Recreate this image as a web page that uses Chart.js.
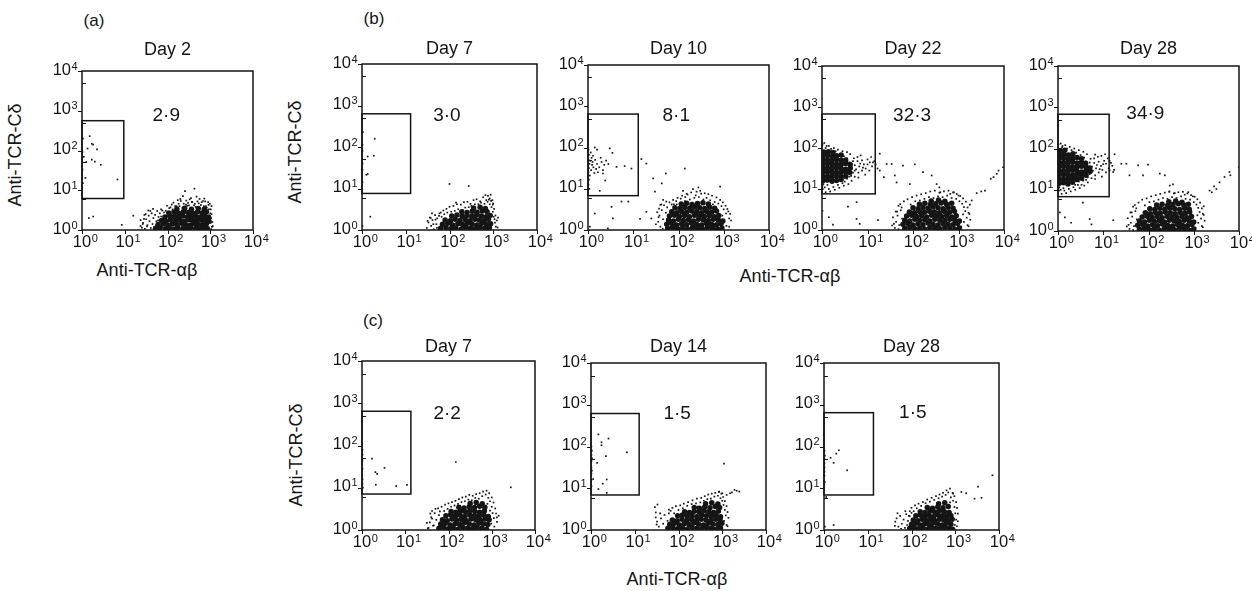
<!DOCTYPE html>
<html><head><meta charset="utf-8">
<script src="https://cdn.jsdelivr.net/npm/chart.js@4.4.0/dist/chart.umd.min.js"></script>
<style>
html,body{margin:0;padding:0;background:#fff;}
body{width:1252px;height:591px;position:relative;overflow:hidden;font-family:"Liberation Sans",Arial,sans-serif;color:#151515;}
canvas{position:absolute;}
.t{position:absolute;white-space:nowrap;transform:translate(-50%,-50%);font-size:18px;line-height:1;}
.r{transform:translate(-50%,-50%) rotate(-90deg);}
</style></head><body>
<div class="t" style="left:94px;top:20px;font-size:17px">(a)</div>
<div class="t" style="left:374px;top:18px;font-size:17px">(b)</div>
<div class="t" style="left:373px;top:320px;font-size:17px">(c)</div>
<div class="t r" style="left:15px;top:155px">Anti-TCR-Cδ</div>
<div class="t r" style="left:295px;top:152px">Anti-TCR-Cδ</div>
<div class="t r" style="left:296px;top:455px">Anti-TCR-Cδ</div>
<div class="t" style="left:147px;top:270px">Anti-TCR-αβ</div>
<div class="t" style="left:790px;top:276px">Anti-TCR-αβ</div>
<div class="t" style="left:677px;top:579px">Anti-TCR-αβ</div>
<script>
// ---- data (log10 positions in hundredths of a decade: x,y,x,y,...) ----
const titles = ['Day 2','Day 7','Day 10','Day 22','Day 28','Day 7','Day 14','Day 28'];
const percents = ['2·9','3·0','8·1','32·3','34·9','2·2','1·5','1·5'];
// gate: [x max, y min, y max] (x min = 10^0)
const gates = [[9.5,6.2,562],[12.9,7.6,631],[12.9,6.8,646],[14.8,7.6,676],[13.5,6.8,676],[13.5,7.1,646],[12.6,6.9,617],[13.5,6.9,646]];
const tickValues = [1,10,100,1000,10000];

const aD2Core = [172,4,183,6,195,3,204,5,215,2,224,6,236,4,245,3,254,6,266,4,275,2,284,5,293,4,
178,14,190,16,201,12,211,15,222,13,233,17,242,14,253,12,263,16,272,14,281,13,291,16,
186,24,197,22,207,26,219,23,228,25,239,22,249,26,258,24,268,23,279,26,288,24,297,22,
194,33,205,36,216,34,226,32,236,35,247,33,256,36,266,34,276,32,287,35,296,33,
203,43,215,45,226,42,237,46,248,44,259,42,270,45,281,43,291,46,
222,53,240,55,256,52,272,54,286,52];
const aD2Dots = [140,6,143,18,147,3,150,27,153,12,156,36,158,22,161,5,163,42,165,15,167,30,169,8,171,38,174,22,176,48,179,33,182,42,185,52,160,48,149,40,145,28,
196,48,204,55,212,52,218,60,228,60,235,56,243,64,250,62,262,62,266,58,278,63,285,60,292,56,297,52,300,42,302,30,303,60,301,18,304,8,299,66,295,70,288,72,280,70,270,72,258,70,248,68,238,66,226,66,
188,49,192,44,199,61,207,57,214,69,221,60,231,73,246,61,257,71,264,66,273,67,283,73,290,60,296,63,301,52,303,40,305,20,306,10,302,2,286,79,268,84,252,77,244,74,224,75,200,42,185,34,178,24,173,12,166,53,155,49,146,38,152,9,142,15,137,25,
241,98,263,104,236,85,255,80,230,78,275,78,210,64,
2,230,18,236,23,217,26,215,35,203,13,205,4,184,10,171,23,177,30,172,44,164,8,131,83,127,1,196,1,152,2,118,
16,30,26,34,93,13,120,36,137,10];

const bD7Core = [180,4,192,6,203,3,214,5,226,2,237,6,248,4,259,3,270,6,281,4,291,5,
184,14,196,16,207,12,219,15,230,13,241,16,252,14,263,12,274,16,285,14,294,15,
190,24,202,22,213,26,224,23,236,25,247,22,258,26,268,24,279,23,289,26,
205,34,217,36,229,33,240,35,251,33,262,36,273,34,284,32,293,35,
228,44,240,42,252,45,263,43,275,46,286,44,
255,53,270,55,282,52];
const bD7Dots = [148,5,152,18,155,30,158,10,161,24,164,2,167,36,170,14,172,28,175,6,177,40,160,40,150,22,
182,32,188,38,195,42,204,44,212,46,220,50,230,48,236,54,244,55,250,58,258,62,266,62,272,66,280,63,287,68,292,62,296,55,299,44,301,32,304,18,306,8,298,72,292,76,288,82,300,64,295,10,303,26,311,30,
176,34,180,42,186,47,193,51,200,56,209,58,217,62,226,61,233,67,241,68,248,63,255,72,262,74,270,69,277,79,284,72,290,73,295,70,299,61,302,51,305,35,308,23,310,6,294,85,282,84,168,25,163,14,157,29,171,5,215,66,
200,111,244,106,
2,236,29,220,13,177,27,179,10,133,13,135,1,205,1,160,1,190,1,145,1,115,
19,32,1,10];

const bD10Core = [176,4,187,6,198,3,209,5,220,2,231,6,242,4,253,3,264,6,275,4,286,2,296,5,
174,14,185,16,196,12,207,15,218,13,229,17,240,14,251,12,262,16,273,14,284,13,294,16,
178,24,189,22,200,26,211,23,222,25,233,22,244,26,255,24,266,23,277,26,288,24,298,22,
180,34,191,36,202,33,213,35,224,32,235,36,246,34,257,33,268,35,279,32,289,35,
185,44,196,42,207,45,218,43,229,46,240,44,251,42,262,45,273,43,284,46,
192,54,203,52,214,55,225,53,236,56,247,54,258,52,269,55,280,53,
206,63,218,65,230,62,242,64,254,66,266,63];
const bD10Dots = [155,20,158,35,160,8,163,48,166,26,168,60,170,14,172,42,165,3,157,52,162,62,175,55,
185,62,195,70,205,76,215,80,225,74,235,78,245,80,255,74,262,78,270,72,280,68,288,64,295,58,300,50,305,40,310,45,312,28,301,20,306,10,297,35,220,86,250,88,240,93,214,70,196,62,276,62,
180,67,188,73,198,78,208,83,218,88,228,91,238,84,248,95,258,89,266,87,274,83,284,79,292,73,298,67,304,59,308,51,314,39,316,23,312,8,173,69,166,73,160,61,153,43,150,14,156,31,232,99,244,103,210,95,
292,105,190,62,
144,125,172,137,214,149,163,113,148,93,129,44,140,28,115,27,89,69,74,69,52,56,44,4,4,8,15,40,118,172,129,161,55,28,
1,195,2,182,1,170,3,160,2,150,1,140,4,132,2,122,6,188,8,175,10,165,12,152,7,145,14,138,9,158,16,170,5,168,18,148,11,180,20,160,22,140,25,152,28,175,30,165,33,145,36,158,40,168,48,198,54,187,63,153,81,155,96,149,33,137,26,95,38,120,20,195,15,200,45,160,1,110,3,100];

const bD22Core = [2,120,12,122,22,119,32,121,42,123,
2,130,12,131,22,129,32,132,42,130,52,131,
2,140,12,142,22,139,32,141,42,140,52,142,61,140,
2,150,12,151,22,149,32,152,42,150,52,148,62,151,
2,160,12,162,22,159,32,161,42,160,52,162,62,160,
2,170,12,171,22,169,32,172,42,170,52,171,
2,180,12,182,22,179,32,181,42,183,
4,190,14,191,24,189,
182,4,193,6,204,3,215,5,226,2,237,6,248,4,259,3,270,6,281,4,292,2,302,5,
178,14,189,16,200,12,211,15,222,13,233,17,244,14,255,12,266,16,277,14,288,13,298,16,
182,24,193,22,204,26,215,23,226,25,237,22,248,26,259,24,270,23,281,26,292,24,302,22,
186,34,197,36,208,33,219,35,230,32,241,36,252,34,263,33,274,35,285,32,295,35,
192,44,203,42,214,45,225,43,236,46,247,44,258,42,269,45,280,43,291,46,
200,54,211,52,222,55,233,53,244,56,255,54,266,52,277,55,288,53,
214,63,226,65,238,62,250,64,262,66,274,63,285,65,
240,71,256,73,270,70];
const bD22Dots = [70,175,78,168,85,182,92,160,100,172,108,178,96,150,88,145,80,140,72,130,65,120,58,112,48,108,38,103,28,98,18,94,8,92,2,100,3,112,12,110,62,185,55,190,45,192,35,196,26,200,15,205,5,212,8,200,110,155,104,145,95,135,105,165,82,155,75,148,68,168,72,158,88,170,60,130,50,118,68,140,115,168,1,108,1,208,
60,165,66,150,78,178,84,162,90,152,100,160,55,175,48,180,58,140,64,132,72,145,80,128,55,125,45,114,35,110,25,105,15,100,6,104,10,118,42,186,30,192,20,198,10,205,118,160,122,150,112,165,
160,5,163,20,166,35,170,12,173,48,176,28,168,2,158,15,175,55,165,45,195,62,205,70,215,72,225,76,235,80,245,78,255,82,265,80,275,84,285,78,295,76,302,70,308,64,312,56,315,46,310,38,318,30,312,20,320,12,306,8,290,92,260,92,282,88,300,84,325,62,322,42,
172,63,180,70,188,75,198,80,208,84,218,87,228,90,238,94,248,96,258,91,268,94,278,96,288,92,296,88,304,83,310,77,316,69,320,55,324,39,326,25,322,9,154,11,156,31,162,45,168,59,
329,72,340,90,350,94,358,96,371,125,377,129,384,137,388,145,398,153,
127,186,142,161,153,161,178,157,204,160,222,141,241,133,164,116,193,112,252,112,258,104,127,145,160,133,136,129,
15,31,24,13,57,57,76,68,83,15,123,24,76,27,1,47];

const bD28Core = [2,115,12,117,22,114,32,118,
2,125,12,126,22,124,32,127,42,125,52,128,
2,135,12,137,22,134,32,136,42,135,52,137,62,135,
2,145,12,146,22,144,32,147,42,145,52,143,62,146,71,144,
2,155,12,157,22,154,32,156,42,155,52,157,62,155,70,153,
2,165,12,166,22,164,32,167,42,165,52,166,61,164,
2,175,12,177,22,174,32,176,42,178,52,175,
3,185,13,186,23,184,33,187,
5,195,15,196,
180,4,191,6,202,3,213,5,224,2,235,6,246,4,257,3,268,6,279,4,290,2,300,5,
176,14,187,16,198,12,209,15,220,13,231,17,242,14,253,12,264,16,275,14,286,13,296,16,
180,24,191,22,202,26,213,23,224,25,235,22,246,26,257,24,268,23,279,26,290,24,300,22,
186,34,197,36,208,33,219,35,230,32,241,36,252,34,263,33,274,35,285,32,295,35,
193,44,204,42,215,45,226,43,237,46,248,44,259,42,270,45,281,43,291,46,
203,54,214,52,225,55,236,53,247,56,258,54,269,52,280,55,290,53,
218,63,230,65,242,62,254,64,266,66,278,63,288,65,
245,71,260,73,274,70];
const bD28Dots = [72,175,80,165,88,180,95,158,102,170,110,176,98,148,90,142,82,135,74,128,66,118,58,110,48,104,38,100,28,96,18,92,8,90,2,98,3,106,12,104,64,186,56,192,46,196,36,200,26,204,16,208,6,212,9,203,112,152,106,142,97,132,106,163,84,152,77,146,70,166,75,156,90,168,62,124,52,112,70,138,117,165,1,102,1,210,82,185,96,182,104,186,46,120,38,112,
62,168,68,152,80,176,86,160,92,150,100,162,58,178,50,184,60,142,66,130,74,148,82,126,56,122,44,112,34,106,24,102,14,98,6,100,10,114,40,190,30,196,20,200,10,206,120,158,124,148,114,170,
158,5,161,20,164,35,168,12,171,48,174,28,166,2,156,15,173,55,163,45,192,62,202,70,212,72,222,76,232,80,242,78,252,82,262,80,272,84,282,78,292,76,300,70,306,64,310,56,313,46,308,38,316,30,310,20,318,12,304,8,288,94,258,92,280,88,298,84,322,60,320,42,246,96,
170,63,178,69,186,76,196,79,206,84,216,87,226,90,236,93,246,95,256,91,266,94,276,95,286,91,294,87,302,83,308,77,314,69,318,55,322,39,324,25,320,9,152,11,154,31,160,45,166,59,
335,98,340,94,350,102,357,118,368,131,379,143,381,135,400,155,345,108,
125,186,140,163,151,163,177,159,199,161,225,139,236,135,158,135,188,135,247,110,254,113,114,147,122,143,
4,45,15,33,29,20,55,69,70,29,74,16,122,26];

const cD7Core = [178,4,189,6,200,3,211,5,222,2,233,6,244,4,255,3,266,6,277,4,288,2,
182,14,193,16,204,12,215,15,226,13,237,17,248,14,259,12,270,16,281,14,291,13,
186,24,197,22,208,26,219,23,230,25,241,22,252,26,263,24,274,23,285,26,294,24,
194,34,205,36,216,33,227,35,238,32,249,36,260,34,271,33,282,35,292,32,
206,44,217,42,228,45,239,43,250,46,261,44,272,42,283,45,
224,54,236,52,248,55,260,53,272,56,284,54,
250,63,264,65,278,62];
const cD7Dots = [154,5,157,18,160,30,164,10,168,40,172,24,175,2,178,35,162,45,170,50,180,44,
190,45,198,50,206,55,214,58,222,62,230,66,238,68,246,72,254,70,262,76,270,74,278,80,286,84,292,76,296,68,300,55,302,40,305,28,299,15,306,8,312,30,316,34,290,62,296,46,
176,51,184,55,192,60,200,63,208,66,216,69,224,73,232,77,240,79,248,83,256,81,264,85,272,87,280,91,288,93,294,87,300,77,304,65,308,51,310,39,312,19,158,39,162,27,166,11,150,17,152,4,
217,161,344,101,
23,169,31,137,35,133,52,147,32,107,79,104,104,107,1,190,1,165,1,145,1,120,2,100,1,110,1,178];

const cD14Core = [176,4,187,6,198,3,209,5,220,2,231,6,242,4,253,3,264,6,275,4,286,2,296,5,
180,14,191,16,202,12,213,15,224,13,235,17,246,14,257,12,268,16,279,14,290,13,299,16,
186,24,197,22,208,26,219,23,230,25,241,22,252,26,263,24,274,23,285,26,295,24,
198,34,209,36,220,33,231,35,242,32,253,36,264,34,275,33,286,35,296,32,
214,44,225,42,236,45,247,43,258,46,269,44,280,42,291,45,
236,54,248,52,260,55,272,53,284,56,294,54,
262,63,276,65,290,62];
const cD14Dots = [148,30,148,42,151,20,155,8,160,28,165,15,168,36,172,5,175,22,158,40,178,40,182,46,
190,40,200,48,210,52,220,58,230,62,240,64,250,66,258,70,266,74,274,75,282,80,290,82,296,76,300,70,303,60,306,48,308,35,304,22,310,12,300,88,293,92,244,56,
178,49,186,53,194,57,204,59,212,63,222,67,232,71,242,75,252,77,260,81,268,85,276,87,284,89,292,91,298,87,302,79,306,69,310,57,312,43,314,29,312,9,150,13,146,55,152,61,
310,84,318,88,333,94,339,92,322,90,328,96,304,159,
17,229,40,219,24,210,24,203,34,177,82,186,14,161,5,122,27,111,36,121,17,98,36,89,1,200,1,180,1,165,1,150,1,135,1,120,1,105,2,190,2,172,2,142];

const cD28Core = [196,4,206,6,216,3,226,5,236,2,246,6,256,4,266,3,276,6,286,4,294,2,
200,14,210,16,220,12,230,15,240,13,250,17,260,14,270,12,280,16,290,14,
204,24,214,22,224,26,234,23,244,25,254,22,264,26,274,24,284,23,293,26,
210,34,220,36,230,33,240,35,250,32,260,36,270,34,280,33,290,35,
220,44,231,42,242,45,253,43,264,46,275,44,286,42,
236,54,248,52,260,55,272,53,284,56,
262,63,276,65];
const cD28Dots = [163,20,166,28,170,8,174,34,178,15,182,25,185,5,188,38,192,22,168,40,162,10,176,3,190,12,186,45,194,34,
205,45,212,52,222,58,232,64,242,68,252,72,262,76,270,80,278,84,284,90,290,78,295,70,298,55,300,40,302,25,299,12,288,66,
196,45,200,53,208,59,216,63,226,67,236,73,246,77,256,81,264,85,272,89,280,95,288,99,294,89,298,81,302,67,304,53,306,39,306,21,304,9,196,33,200,41,
295,87,314,91,325,88,352,104,344,75,360,77,385,131,
15,173,22,161,28,183,34,191,53,143,1,190,1,170,1,160,1,150,1,140,1,130,2,178,2,115,
5,79,22,12,2,8];

const coreSets = [aD2Core,bD7Core,bD10Core,bD22Core,bD28Core,cD7Core,cD14Core,cD28Core];
const dotSets = [aD2Dots,bD7Dots,bD10Dots,bD22Dots,bD28Dots,cD7Dots,cD14Dots,cD28Dots];

// ---- layout (page pixels of each plot frame; label anchor in decades) ----
const frames = [
 {L:82,T:71,R:253,B:230,ty:50,lx:1.97,ly:2.87},
 {L:362,T:64,R:537,B:230,ty:49,lx:1.94,ly:2.75},
 {L:588,T:65,R:769,B:230,ty:49,lx:1.95,ly:2.78},
 {L:822,T:66,R:1004,B:230,ty:49,lx:1.98,ly:2.79},
 {L:1058,T:66,R:1239,B:231,ty:49,lx:1.93,ly:2.84},
 {L:362,T:361,R:535,B:530,ty:347,lx:1.97,ly:2.75},
 {L:591,T:363,R:766,B:530,ty:347,lx:1.97,ly:2.79},
 {L:824,T:363,R:999,B:530,ty:347,lx:2.03,ly:2.8}
];
const PADL=60, PADT=40, PADR=25, PADB=30;
const INK='#151515';
const FONT='"Liberation Sans", Arial, sans-serif';

function toPts(a){const out=[];for(let i=0;i<a.length;i+=2)out.push({x:Math.pow(10,a[i]/100),y:Math.pow(10,a[i+1]/100)});return out;}
const isMajor=v=>Math.abs(Math.log10(v)-Math.round(Math.log10(v)))<1e-6;

const flowPlugin={
 id:'flow',
 afterDraw(chart,args,o){
  const {ctx,chartArea:a,scales:{x,y}}=chart;
  ctx.save();
  ctx.fillStyle=INK; ctx.strokeStyle=INK;
  ctx.lineWidth=1.5;
  ctx.strokeRect(a.left,a.top,a.right-a.left,a.bottom-a.top);
  ctx.lineWidth=1;
  x.ticks.forEach(t=>{
   const p=Math.round(x.getPixelForValue(t.value))+0.5;
   ctx.beginPath();
   if(isMajor(t.value)){ctx.moveTo(p,a.bottom);ctx.lineTo(p,a.bottom+4);}
   else{ctx.moveTo(p,a.bottom);ctx.lineTo(p,a.bottom-4);}
   ctx.stroke();
  });
  y.ticks.forEach(t=>{
   const p=Math.round(y.getPixelForValue(t.value))+0.5;
   ctx.beginPath();
   if(isMajor(t.value)){ctx.moveTo(a.left,p);ctx.lineTo(a.left-4,p);}
   else{ctx.moveTo(a.left,p);ctx.lineTo(a.left+4,p);}
   ctx.stroke();
  });
  tickValues.forEach(v=>{
   const e=String(Math.round(Math.log10(v)));
   const px=x.getPixelForValue(v);
   ctx.font='16.5px '+FONT; ctx.textAlign='center'; ctx.textBaseline='middle';
   ctx.fillText('10',px,a.bottom+12);
   const w=ctx.measureText('10').width;
   ctx.font='11px '+FONT; ctx.textAlign='left'; ctx.textBaseline='top';
   ctx.fillText(e,px+w/2+0.5,a.bottom+3);
   const py=y.getPixelForValue(v);
   ctx.font='16.5px '+FONT; ctx.textAlign='right'; ctx.textBaseline='middle';
   ctx.fillText('10',a.left-11,py-1);
   ctx.font='11px '+FONT; ctx.textAlign='left'; ctx.textBaseline='top';
   ctx.fillText(e,a.left-10.5,py-10);
  });
  const g=o.gate;
  ctx.lineWidth=1.5;
  const gx0=x.getPixelForValue(1),gx1=x.getPixelForValue(g[0]);
  const gy0=y.getPixelForValue(g[2]),gy1=y.getPixelForValue(g[1]);
  ctx.strokeRect(gx0,gy0,gx1-gx0,gy1-gy0);
  ctx.font='19px '+FONT; ctx.textAlign='center'; ctx.textBaseline='middle';
  ctx.fillText(o.pct,x.getPixelForValue(Math.pow(10,o.lx)),y.getPixelForValue(Math.pow(10,o.ly)));
  ctx.font='18px '+FONT;
  ctx.fillText(o.title,(a.left+a.right)/2,o.ty);
  ctx.restore();
 }
};

frames.forEach((f,i)=>{
 const cv=document.createElement('canvas');
 const W=f.R-f.L+PADL+PADR, H=f.B-f.T+PADT+PADB;
 cv.width=W; cv.height=H;
 cv.style.left=(f.L-PADL)+'px'; cv.style.top=(f.T-PADT)+'px';
 cv.style.width=W+'px'; cv.style.height=H+'px';
 document.body.appendChild(cv);
 new Chart(cv,{
  type:'scatter',
  data:{datasets:[
   {data:toPts(coreSets[i]),pointStyle:'circle',pointRadius:2.75,backgroundColor:INK,borderWidth:0,clip:0},
   {data:toPts(dotSets[i]),pointStyle:'rect',pointRadius:1.2,backgroundColor:INK,borderWidth:0,clip:0}
  ]},
  options:{
   responsive:false,animation:false,devicePixelRatio:1,
   layout:{padding:{left:PADL,top:PADT,right:PADR,bottom:PADB}},
   scales:{
    x:{type:'logarithmic',min:1,max:10000,display:false},
    y:{type:'logarithmic',min:1,max:10000,display:false}
   },
   plugins:{legend:{display:false},tooltip:{enabled:false},
    flow:{gate:gates[i],pct:percents[i],title:titles[i],ty:f.ty-(f.T-PADT),lx:f.lx,ly:f.ly}}
  },
  plugins:[flowPlugin]
 });
});
</script>
</body></html>
